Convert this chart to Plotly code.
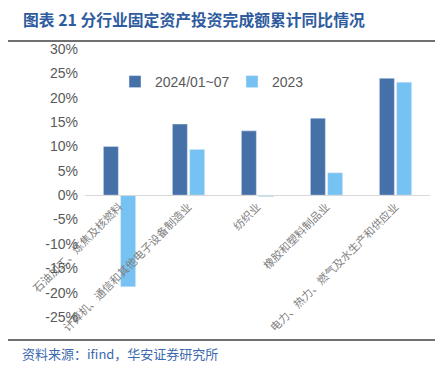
import plotly.graph_objects as go

categories = ["石油加工、炼焦及核燃料", "计算机、通信和其他电子设备制造业", "纺织业",
              "橡胶和塑料制品业", "电力、热力、燃气及水生产和供应业"]
series_2024 = [10.0, 14.6, 13.2, 15.8, 24.0]
series_2023 = [-18.8, 9.4, -0.3, 4.6, 23.2]
y_ticks = [30, 25, 20, 15, 10, 5, 0, -5, -10, -15, -20, -25]
y_ticklabels = [f"{v}%" for v in y_ticks]

OFF = 8  # page body margin
W, H = 443 - OFF, 367 - OFF
ML, MR, MT, MB = 85 - OFF, 13, 49 - OFF, 50
PW, PH = W - ML - MR, H - MT - MB

def px_x(x):
    return (x - OFF - ML) / PW

def px_y(y):
    return (H - MB - (y - OFF)) / PH

fig = go.Figure()
fig.add_trace(go.Bar(x=categories, y=series_2024, name="2024/01~07",
                     marker_color="#4571A8"))
fig.add_trace(go.Bar(x=categories, y=series_2023, name="2023",
                     marker_color="#76C2F2"))

ymin, ymax = -25, 30
zero_pos = (0 - ymin) / (ymax - ymin)

fig.update_layout(
    width=W, height=H,
    margin=dict(l=ML, r=MR, t=MT, b=MB),
    paper_bgcolor="white", plot_bgcolor="white",
    barmode="group", bargap=0.5, bargroupgap=0.13,
    showlegend=True,
    legend=dict(orientation="h", x=px_x(115), y=px_y(82), xanchor="left", yanchor="middle",
                font=dict(size=14, color="#595959", family="Liberation Sans, Arial"),
                itemwidth=30, entrywidth=72, traceorder="normal",
                bgcolor="rgba(0,0,0,0)"),
    xaxis=dict(anchor="free", position=zero_pos, showline=True, linecolor="#D9D9D9",
               linewidth=1, ticks="", tickangle=-45,
               tickfont=dict(size=11, color="#7F7F7F", family="Noto Sans CJK SC"),
               showgrid=False, zeroline=False),
    yaxis=dict(range=[ymin, ymax], tickvals=y_ticks, ticktext=y_ticklabels,
               showgrid=False, zeroline=False, showline=False, ticks="",
               tickfont=dict(size=14, color="#595959", family="Liberation Sans, Arial"),
               ticklabelstandoff=6),
    font=dict(family="Noto Sans CJK SC"),
)

fig.add_annotation(text="<b>图表 21 分行业固定资产投资完成额累计同比情况</b>",
                   xref="paper", yref="paper", x=px_x(21), y=px_y(19),
                   xanchor="left", yanchor="middle", showarrow=False,
                   font=dict(size=15.8, color="#2E5C9E", family="Noto Sans CJK SC"))
fig.add_annotation(text="资料来源：ifind，华安证券研究所",
                   xref="paper", yref="paper", x=px_x(20), y=px_y(353),
                   xanchor="left", yanchor="middle", showarrow=False,
                   font=dict(size=13, color="#3D6AAE", family="Noto Sans CJK SC"))
fig.add_shape(type="line", xref="paper", yref="paper", layer="above",
              x0=px_x(OFF), x1=px_x(443), y0=px_y(41), y1=px_y(41),
              line=dict(color="#404040", width=1.5))
fig.add_shape(type="line", xref="paper", yref="paper", layer="above",
              x0=px_x(OFF), x1=px_x(443), y0=px_y(340), y1=px_y(340),
              line=dict(color="#404040", width=1.5))

fig.write_html("out.html")
